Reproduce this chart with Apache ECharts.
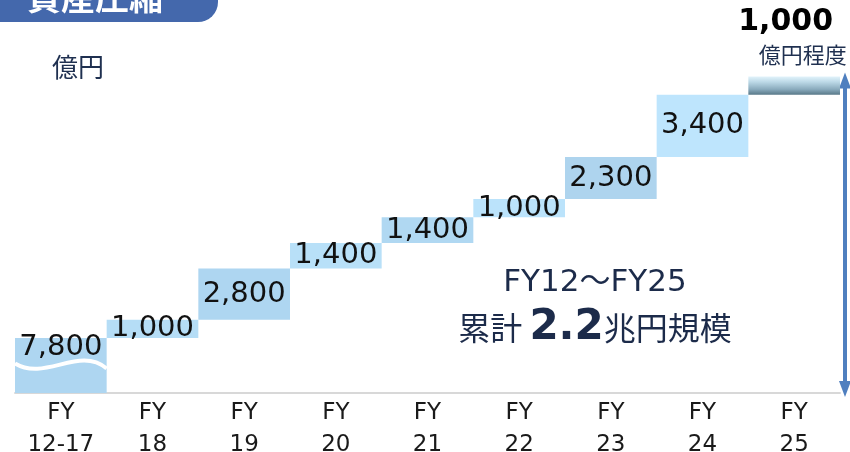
<!DOCTYPE html>
<html>
<head>
<meta charset="utf-8">
<script src="https://cdn.jsdelivr.net/npm/echarts@6/dist/echarts.min.js"></script>
<style>
  html, body { margin: 0; padding: 0; background: #fff; }
  #chart { width: 850px; height: 452px; }
</style>
</head>
<body>
<div id="chart"></div>
<script>
// 資産圧縮の推移（億円）
var categories = ['FY\n12-17', 'FY\n18', 'FY\n19', 'FY\n20', 'FY\n21', 'FY\n22', 'FY\n23', 'FY\n24', 'FY\n25'];
var amounts = [7800, 1000, 2800, 1400, 1400, 1000, 2300, 3400, 1000];
var amountLabels = ['7,800', '1,000', '2,800', '1,400', '1,400', '1,000', '2,300', '3,400', '1,000'];
var barColors = ['#aed6f1', '#b5ddf6', '#aed6f1', '#b8e0f8', '#b0d8f2', '#bbe3fb', '#aed4ee', '#bee5fd'];
var breakAt = 6300;   // 省略線の位置

var FONT = '"DejaVu Sans", "Noto Sans CJK JP", sans-serif';
var CJK = '"Noto Sans CJK JP", sans-serif';

// 積み上げの土台
var bases = [];
var sum = 0;
for (var i = 0; i < amounts.length; ++i) {
    bases.push(sum);
    sum += amounts[i];
}
var total = sum;

var lastBar = {
    type: 'linear', x: 0, y: 0, x2: 0, y2: 1,
    colorStops: [
        { offset: 0, color: '#e2f3fb' },
        { offset: 0.3, color: '#bcd9e7' },
        { offset: 0.7, color: '#8aabbd' },
        { offset: 1, color: '#587888' }
    ]
};

var barData = [];
for (var i = 0; i < amounts.length; ++i) {
    var item = { value: amounts[i], itemStyle: { color: i < barColors.length ? barColors[i] : lastBar } };
    if (i === 0) {
        item.label = { position: 'insideTop', distance: 0, offset: [0, -5] };
    }
    if (i === amounts.length - 1) {
        item.label = {
            position: 'top',
            distance: 9,
            formatter: '{b|' + amountLabels[i] + '}\n{s|億円程度}',
            rich: {
                b: { fontFamily: FONT, fontSize: 30, fontWeight: 'bold', color: '#000', lineHeight: 38, padding: [0, 17, 0, 0] },
                s: { fontFamily: CJK, fontSize: 22, color: '#1f3050', lineHeight: 26, padding: [0, 0, 0, 17] }
            }
        };
    }
    barData.push(item);
}

var dom = document.getElementById('chart');
var myChart = echarts.init(dom);
var option = {
    animation: false,
    grid: { left: 15, right: 10, top: 60, bottom: 59, outerBoundsMode: 'none', containLabel: false },
    xAxis: {
        type: 'category',
        data: categories,
        axisLine: { lineStyle: { color: '#d8d8d8', width: 2 } },
        axisTick: { show: false },
        axisLabel: { fontFamily: FONT, fontSize: 23, color: '#1a1a1a', lineHeight: 32, margin: 4, interval: 0 }
    },
    yAxis: {
        type: 'value',
        min: 4800,
        max: 23000,
        show: false,
        splitLine: { show: false }
    },
    series: [
        {
            type: 'bar',
            stack: 'w',
            barCategoryGap: 0,
            itemStyle: { color: 'transparent' },
            emphasis: { disabled: true },
            data: bases
        },
        {
            type: 'bar',
            stack: 'w',
            barCategoryGap: 0,
            data: barData,
            label: {
                show: true,
                position: 'inside',
                fontFamily: FONT,
                fontSize: 29,
                color: '#111',
                formatter: function (p) { return amountLabels[p.dataIndex]; }
            }
        },
        {
            // 省略の波線
            type: 'custom',
            z: 5,
            data: [[0, breakAt]],
            renderItem: function (params, api) {
                var c = api.coord([api.value(0), api.value(1)]);
                var w = api.size([1, 0])[0];
                var x0 = c[0] - w / 2, y = c[1];
                return {
                    type: 'bezierCurve',
                    shape: {
                        x1: x0, y1: y - 2,
                        cpx1: x0 + w * 0.33, cpy1: y + 16,
                        cpx2: x0 + w * 0.7, cpy2: y - 20,
                        x2: x0 + w, y2: y + 3
                    },
                    style: { stroke: '#fff', lineWidth: 4, fill: null }
                };
            }
        }
    ],
    graphic: [
        {
            id: 'banner',
            type: 'rect',
            shape: { x: -10, y: -20, width: 228, height: 42, r: [0, 0, 20, 0] },
            style: { fill: '#4468ac' }
        },
        {
            id: 'bannerText',
            type: 'text',
            x: 27, y: -3,
            style: { text: '資産圧縮', fontFamily: CJK, fontSize: 34, fontWeight: 'bold', fill: '#fff', textVerticalAlign: 'middle' }
        },
        {
            id: 'unit',
            type: 'text',
            x: 52, y: 67,
            style: { text: '億円', fontFamily: CJK, fontSize: 26, fill: '#1f3050', textVerticalAlign: 'middle' }
        },
        {
            id: 'note1',
            type: 'text',
            x: 595, y: 283,
            style: { text: 'FY12～FY25', fontFamily: FONT, fontSize: 31, fill: '#1c2b4a', textAlign: 'center', textVerticalAlign: 'middle' }
        },
        {
            id: 'note2',
            type: 'text',
            x: 595, y: 328,
            style: {
                text: '{a|累計 }{b|2.2}{a|兆円規模}',
                textAlign: 'center',
                textVerticalAlign: 'middle',
                rich: {
                    a: { fontFamily: CJK, fontSize: 32, fill: '#1c2b4a' },
                    b: { fontFamily: FONT, fontSize: 42, fontWeight: 'bold', fill: '#1c2b4a' }
                }
            }
        }
    ]
};
myChart.setOption(option, true);

// 右側の矢印（累計の幅）
var topPt = myChart.convertToPixel({ gridIndex: 0 }, [amounts.length - 1, total]);
var basePt = myChart.convertToPixel({ gridIndex: 0 }, [amounts.length - 1, 4800]);
var ax = 845;
var y1 = topPt[1] - 4, y2 = basePt[1] + 4;
myChart.setOption({
    graphic: [
        {
            id: 'arrowLine',
            type: 'line',
            shape: { x1: ax, y1: y1 + 10, x2: ax, y2: y2 - 10 },
            style: { stroke: '#4f7fbf', lineWidth: 4 }
        },
        {
            id: 'arrowTop',
            type: 'polygon',
            shape: { points: [[ax, y1], [ax - 6, y1 + 16], [ax + 6, y1 + 16]] },
            style: { fill: '#4f7fbf' }
        },
        {
            id: 'arrowBottom',
            type: 'polygon',
            shape: { points: [[ax, y2], [ax - 6, y2 - 16], [ax + 6, y2 - 16]] },
            style: { fill: '#4f7fbf' }
        }
    ]
});
</script>
</body>
</html>
